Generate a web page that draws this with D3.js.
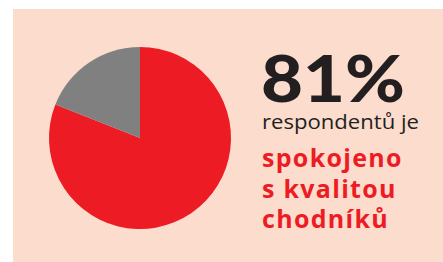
<!DOCTYPE html>
<html>
<head>
<meta charset="utf-8">
<script src="https://cdn.jsdelivr.net/npm/d3@7"></script>
<style>
  body { margin: 0; background: #fff; }
  svg { display: block; }
</style>
</head>
<body>
<div id="chart"></div>
<script>
var width = 443,
    height = 262;

// data
const categories = ["spokojeno", "nespokojeno"];
const values = [81, 19];
const colors = ["#ed1c24", "#808080"];
const headline = "81%";
const subLine = "respondentů je";
const redLines = ["spokojeno", "s kvalitou", "chodníků"];

var svg = d3.select("#chart")
    .append("svg")
    .attr("width", width)
    .attr("height", height);

// background panel
svg.append("rect")
    .attr("x", 13)
    .attr("y", 9)
    .attr("width", width - 13)
    .attr("height", height - 9)
    .attr("fill", "#fcdccd");

const color = d3.scaleOrdinal()
    .domain(categories)
    .range(colors);

const pie = d3.pie()
    .sort(null)
    .value(d => d);

const arc = d3.arc()
    .innerRadius(0)
    .outerRadius(91);

svg.append("g")
    .attr("transform", "translate(140,138)")
    .selectAll("path")
    .data(pie(values))
    .join("path")
    .attr("d", arc)
    .attr("fill", (d, i) => color(categories[i]));

// text block
const tx = 262;

svg.append("text")
    .attr("x", tx - 1)
    .attr("y", 102)
    .attr("font-family", "Lato, sans-serif")
    .attr("font-weight", 900)
    .attr("font-size", "64px")
    .attr("fill", "#231f20")
    .attr("textLength", 144)
    .attr("lengthAdjust", "spacingAndGlyphs")
    .text(headline);

svg.append("text")
    .attr("x", tx)
    .attr("y", 129)
    .attr("font-family", "'Open Sans', sans-serif")
    .attr("font-size", "20px")
    .attr("fill", "#231f20")
    .attr("textLength", 157)
    .attr("lengthAdjust", "spacingAndGlyphs")
    .text(subLine);

svg.append("g")
    .selectAll("text")
    .data(redLines)
    .join("text")
    .attr("x", tx)
    .attr("y", (d, i) => 167 + i * 30.7)
    .attr("font-family", "'Open Sans', sans-serif")
    .attr("font-weight", 700)
    .attr("font-size", "25px")
    .attr("letter-spacing", "1.3px")
    .attr("fill", "#ed1c24")
    .text(d => d);
</script>
</body>
</html>
